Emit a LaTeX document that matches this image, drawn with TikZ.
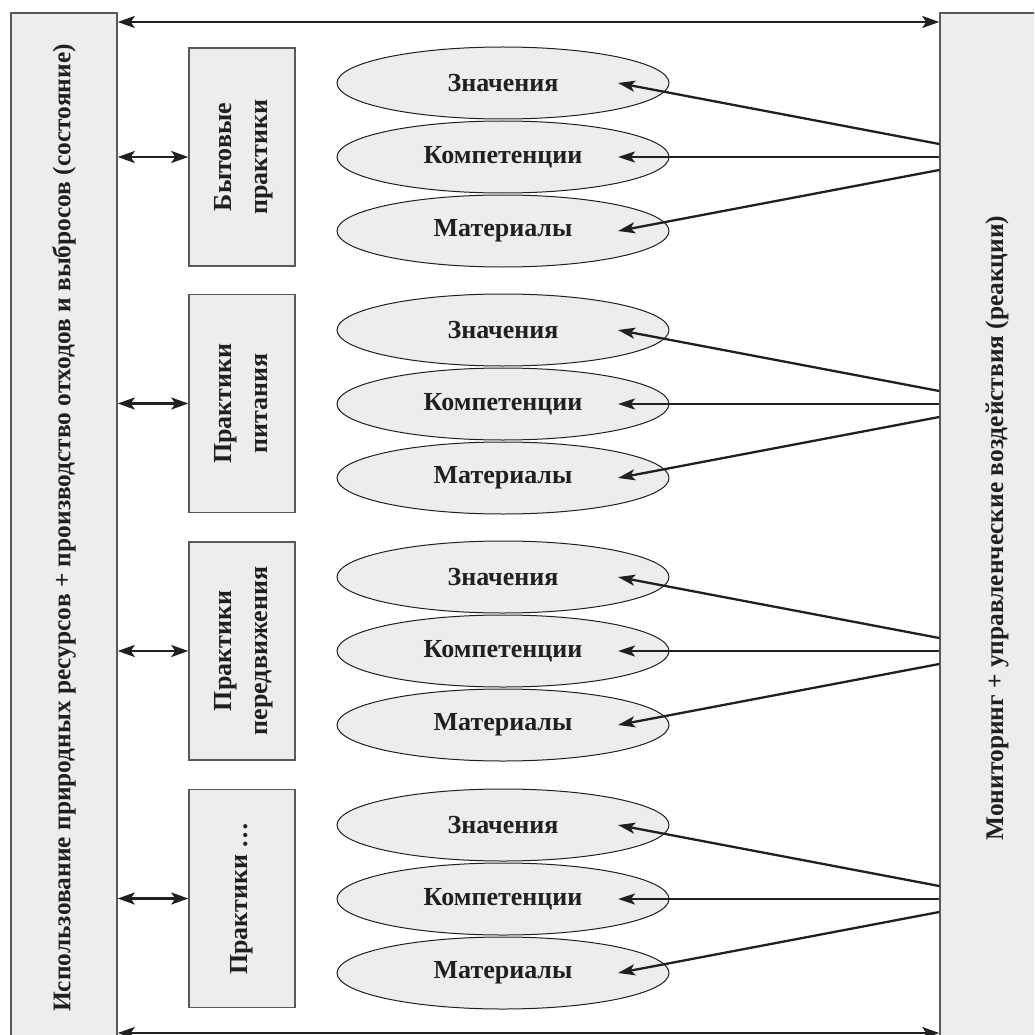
\documentclass[tikz,border=0pt]{standalone}
\usepackage{fontspec}
\setmainfont{Liberation Serif}
\usetikzlibrary{arrows.meta,calc,shapes.geometric}
\definecolor{boxfill}{HTML}{EDEDED}
\definecolor{ink}{HTML}{231F20}
\tikzset{
  sidebox/.style={draw=black!65, line width=1.5pt, fill=boxfill, minimum width=106pt, minimum height=1032pt, inner sep=0pt},
  pbox/.style={draw=black!65, line width=1.5pt, fill=boxfill, minimum width=106pt, minimum height=218pt, inner sep=0pt, font=\fontsize{26}{36}\selectfont\bfseries, text=ink, align=center},
  oval/.style={ellipse, draw=ink, line width=1pt, fill=boxfill, minimum width=332pt, minimum height=72pt, inner sep=0pt, font=\fontsize{26}{30}\selectfont\bfseries, text=ink},
  sidetext/.style={font=\fontsize{25.4}{30}\selectfont\bfseries, text=ink, rotate=90},
  arr/.style={-{Stealth[length=17pt,width=11pt,inset=4pt]}, line width=2.3pt, draw=ink},
  darr/.style={{Stealth[length=17pt,width=12pt,inset=4pt]}-{Stealth[length=17pt,width=12pt,inset=4pt]}, line width=2.3pt, draw=ink}
}
\begin{document}
\begin{tikzpicture}[x=1pt,y=-1pt]
\useasboundingbox (0,0) rectangle (1034,1035);
\clip (0,0) rectangle (1034,1035);
\fill[white] (0,0) rectangle (1034,1035);
% side boxes
\node[sidebox] (L) at (64,529) {};
\node[sidetext] (Lt) at (64,528) {Использование природных ресурсов + производство отходов и выбросов (состояние)};
\node[sidebox] (R) at (993,529) {};
\node[sidetext] (Rt) at (997,528) {Мониторинг + управленческие воздействия (реакции)};
% practice boxes
\node[pbox] (p1) at (242,157) {\rotatebox{90}{\begin{tabular}{@{}c@{}}Бытовые\\практики\end{tabular}}};
\node[pbox] (p2) at (242,403.5) {\rotatebox{90}{\begin{tabular}{@{}c@{}}Практики\\питания\end{tabular}}};
\node[pbox] (p3) at (242,651) {\rotatebox{90}{\begin{tabular}{@{}c@{}}Практики\\передвижения\end{tabular}}};
\node[pbox] (p4) at (242,898.5) {\rotatebox{90}{Практики …}};
% top / bottom arrows
\coordinate (ta) at (0,22);
\coordinate (ba) at (0,1033);
\draw[darr] (L.east |- ta) -- (R.west |- ta);
\draw[darr] (L.east |- ba) -- (R.west |- ba);
% groups
\foreach \i/\c in {1/157,2/404,3/651,4/899}{
  \node[oval] (z\i) at (503,\c-74) {Значения};
  \node[oval] (k\i) at (503,\c) {Компетенции};
  \node[oval] (m\i) at (503,\c+74) {Материалы};
  \coordinate (zt\i) at ($(z\i.center)+(115,0)$);
  \coordinate (kt\i) at ($(k\i.center)+(115,0)$);
  \coordinate (mt\i) at ($(m\i.center)+(115,0)$);
  \draw[darr] (L.east |- p\i.west) -- (p\i.west);
  \draw[arr] ($(R.west |- k\i)+(0,-13)$) -- (zt\i);
  \draw[arr] (R.west |- k\i) -- (kt\i);
  \draw[arr] ($(R.west |- k\i)+(0,13)$) -- (mt\i);
}
\end{tikzpicture}
\end{document}
